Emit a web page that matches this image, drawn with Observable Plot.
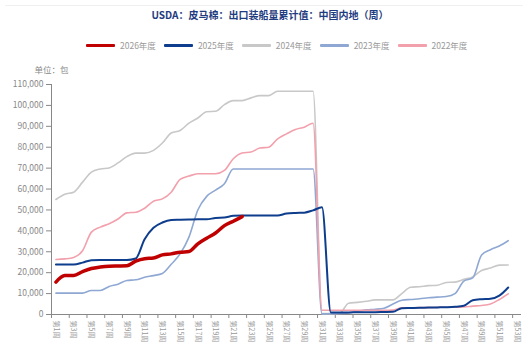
<!DOCTYPE html>
<html>
<head>
<meta charset="utf-8">
<script src="https://cdn.jsdelivr.net/npm/d3@7"></script>
<script src="https://cdn.jsdelivr.net/npm/@observablehq/plot@0.6"></script>
<style>
  body { margin: 0; background: #fff; font-family: "Noto Sans CJK SC", "Noto Sans", sans-serif; }
  #wrap { width: 523px; height: 342px; position: relative; overflow: hidden; }
  #topline { position: absolute; left: 5px; right: 0; top: 5px; border-top: 1px solid #f0f0f0; }
  #header { position: relative; height: 56px; }
  #title { position: absolute; left: 0; width: 540px; top: 7px; text-align: center;
           font-size: 10px; font-weight: bold; color: #1f3c80; line-height: 16px; }
  #legend { position: absolute; left: 86px; top: 38px; display: flex; align-items: center;
            font-size: 8.5px; color: #999; line-height: 14px; }
  .item { display: flex; align-items: center; margin-right: 8px; }
  .sw { width: 29px; height: 3px; margin-right: 5px; border-radius: 1px; }
</style>
</head>
<body>
<div id="wrap">
  <div id="topline"></div>
  <div id="header">
    <div id="title">USDA：皮马棉：出口装船量累计值：中国内地（周）</div>
    <div id="legend"></div>
  </div>
  <div id="chart"></div>
</div>
<script>
// Marketing years, weekly cumulative export shipments to mainland China (bales)
const seasons = ["2026年度", "2025年度", "2024年度", "2023年度", "2022年度"];
const colors  = ["#c00000", "#0d3d8c", "#c8c8c8", "#8fa8d3", "#f3a0ad"];
const widths  = [3.5, 2, 1.6, 1.6, 1.6];

const weeks = d3.range(1, 54);           // 第1周 … 第53周
const labelWeeks = weeks.filter(w => w % 2 === 1);
const yTicks = d3.range(0, 110001, 10000);

const s2026 = [15500, 18600, 18700, 20500, 22000, 22700, 23100, 23200, 23300, 25500,
               26700, 27000, 28500, 29000, 29800, 30100, 33800, 36500, 39000, 42500,
               44600, 46800];

const s2025 = [23900, 23900, 23900, 24800, 26000, 26100, 26100, 26100, 26100, 26800,
               36000, 41500, 44000, 45200, 45300, 45400, 45500, 45500, 46200, 46400,
               47200, 47300, 47300, 47300, 47300, 47300, 48300, 48600, 48700, 49800,
               51300, 1000, 1000, 1000, 1100, 1100, 1100, 1200, 1300, 3000,
               3100, 3200, 3300, 3400, 3500, 3700, 4200, 6800, 7300, 7500,
               9000, 12900];

const s2024 = [55000, 57500, 58500, 63300, 68100, 69600, 70100, 72500, 75500, 77200,
               77200, 78500, 82000, 86800, 88000, 91500, 94000, 97000, 97200, 100400,
               102300, 102300, 103600, 104700, 104700, 106800, 106800, 106800, 106800, 106800,
               400, 400, 600, 5400, 5800, 6300, 7000, 7000, 7000, 10000,
               13000, 13300, 13800, 14000, 15300, 15500, 16800, 18000, 21000, 22200,
               23600, 23700];

const s2023 = [10200, 10200, 10200, 10200, 11500, 11500, 13400, 14500, 16300, 16600,
               17800, 18600, 19600, 24000, 29000, 37000, 50000, 56500, 59500, 62500,
               69600, 69600, 69600, 69600, 69600, 69600, 69600, 69600, 69600, 69600,
               300, 400, 500, 700, 1500, 2200, 2500, 3000, 5000, 6800,
               7200, 7500, 8000, 8300, 8600, 10000, 16000, 17500, 28500, 31000,
               32800, 35300];

const s2022 = [26300, 26600, 27300, 30500, 39400, 41800, 43400, 45700, 48600, 48900,
               50800, 54200, 55300, 58500, 64600, 66200, 67300, 67300, 67300, 68900,
               74500, 77200, 77700, 79600, 80000, 84000, 86400, 88500, 89600, 91500,
               2000, 2000, 2000, 2000, 2000, 2000, 2000, 2000, 2100, 3200,
               3200, 3300, 3300, 3400, 3500, 3500, 3600, 4000, 4300, 5000,
               7200, 9900];

const seriesValues = [s2026, s2025, s2024, s2023, s2022];

// Legend
const legend = document.getElementById("legend");
seasons.forEach((s, i) => {
  const item = document.createElement("div");
  item.className = "item";
  const sw = document.createElement("span");
  sw.className = "sw";
  sw.style.background = colors[i];
  const t = document.createElement("span");
  t.textContent = s;
  item.append(sw, t);
  legend.append(item);
});

const rowsFor = vals => vals.map((v, i) => ({week: weeks[i], value: v}));

// Draw order: lighter seasons underneath, current season on top
const drawOrder = [2, 3, 4, 1, 0];
const lineMarks = drawOrder.map(i =>
  Plot.line(rowsFor(seriesValues[i]), {
    x: "week", y: "value",
    stroke: colors[i], strokeWidth: widths[i],
    curve: "monotone-x", strokeLinejoin: "round", strokeLinecap: "round"
  })
);

const chart = Plot.plot({
  width: 523,
  height: 286,
  marginLeft: 51,
  marginRight: 2,
  marginTop: 28,
  marginBottom: 28,
  x: {domain: [0.5, 53.5], axis: null},
  y: {domain: [0, 110000], axis: null},
  style: {fontFamily: "'Noto Sans CJK SC', 'Noto Sans', sans-serif", fontSize: "8.5px", color: "#888", background: "#fff"},
  marks: [
    Plot.axisY({ticks: yTicks, tickFormat: d3.format(","), tickSize: 5, tickPadding: 3, label: null}),
    Plot.axisX({ticks: labelWeeks.map(w => w - 0.5), tickSize: 4, tickFormat: () => "", label: null}),
    Plot.axisX({ticks: labelWeeks, tickSize: 0, tickPadding: 6, tickRotate: 90, fontSize: 7,
                fill: "#999", tickFormat: d => `第${d}周`, label: null}),
    Plot.ruleX([0.5], {stroke: "#888"}),
    Plot.ruleY([0], {stroke: "#888"}),
    Plot.text(["单位：包"], {frameAnchor: "top-left", dy: -18, textAnchor: "middle", fill: "#888"}),
    ...lineMarks
  ]
});
document.getElementById("chart").append(chart);
</script>
</body>
</html>
